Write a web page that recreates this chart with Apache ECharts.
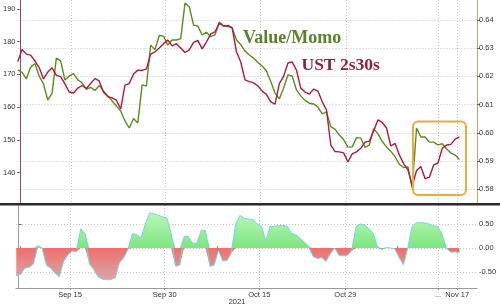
<!DOCTYPE html>
<html><head><meta charset="utf-8">
<script src="https://cdn.jsdelivr.net/npm/echarts@6/dist/echarts.min.js"></script>
<style>html,body{margin:0;padding:0;background:#fff}#c{width:500px;height:306px}</style>
</head><body><div id="c"></div>
<script>
// x is measured in trading days from Sep 7, 2021 (samples every half day)
const startDay = -0.25;
const stepDay = 0.5;
const tickDays = [6, 17, 28, 38, 48.77, 51];
const tickLabels = ['Sep 15', 'Sep 30', 'Oct 15', 'Oct 29', '...', 'Nov 17'];
const minorTickDays = [0.2, 23.1, 33, 44];
const yearLabel = '2021';

const ust2s30s = [
173.9,177.6,176.2,175.9,174.1,172.1,168.6,170.7,172.0,169.7,
169.3,167.1,164.6,164.3,165.8,166.6,165.7,167.2,168.7,168.0,
164.5,163.2,162.8,162.1,159.4,166.7,167.2,170.1,171.3,171.2,
171.7,176.2,176.9,178.1,179.4,180.5,178.7,179.4,178.1,176.7,
177.5,179.8,180.4,177.8,179.9,182.4,183.0,185.6,184.8,185.0,
184.2,176.9,173.8,168.3,167.8,167.4,166.5,164.9,163.9,161.6,
160.9,167.2,169.4,173.5,173.8,171.3,165.8,164.6,164.0,165.5,
164.9,161.6,159.1,148.4,146.4,146.3,146.0,143.2,145.7,146.3,
147.4,149.3,149.6,152.7,156.1,155.3,153.6,148.1,148.9,145.3,
142.7,140.8,135.9,140.6,141.8,138.1,138.6,142.3,142.9,147.4,
148.4,148.6,150.2,150.9];

const valueMomo = [
0.6223,0.6214,0.6191,0.6233,0.6246,0.6201,0.6173,0.6116,0.6141,0.6265,
0.6255,0.6187,0.6201,0.6210,0.6188,0.6177,0.6154,0.6161,0.6150,0.6168,
0.6148,0.6131,0.6113,0.6095,0.6077,0.6042,0.6017,0.6051,0.6035,0.6170,
0.6166,0.6311,0.6295,0.6345,0.6343,0.6311,0.6329,0.6329,0.6334,0.6460,
0.6447,0.6382,0.6379,0.6347,0.6357,0.6341,0.6347,0.6393,0.6379,0.6377,
0.6373,0.6329,0.6313,0.6290,0.6276,0.6265,0.6249,0.6237,0.6219,0.6182,
0.6141,0.6120,0.6159,0.6205,0.6201,0.6152,0.6131,0.6115,0.6105,0.6102,
0.6091,0.6067,0.6074,0.6022,0.6012,0.5992,0.5976,0.5949,0.5950,0.5983,
0.5981,0.5948,0.5957,0.6015,0.5996,0.5969,0.5950,0.5934,0.5915,0.5888,
0.5877,0.5879,0.5804,0.6017,0.5985,0.5985,0.5967,0.5967,0.5957,0.5961,
0.5943,0.5928,0.5921,0.5905];

const spread = [
-0.58,-0.55,-0.42,-0.40,-0.33,0.05,0.00,-0.36,-0.42,-0.52,
-0.60,-0.28,-0.14,-0.06,-0.08,0.40,0.30,-0.33,-0.45,-0.60,
-0.65,-0.66,-0.66,-0.62,-0.30,-0.20,-0.02,0.30,0.28,0.20,
0.50,0.73,0.72,0.68,0.65,0.63,0.30,-0.38,-0.36,0.24,
0.24,0.10,0.10,0.37,0.36,-0.38,-0.36,-0.05,-0.27,-0.26,
-0.10,0.50,0.68,0.62,0.60,0.60,0.50,0.45,0.15,0.45,
0.45,0.47,0.47,0.45,0.30,0.28,0.20,0.12,0.03,-0.18,
-0.22,-0.20,-0.28,-0.12,0.00,-0.15,-0.16,-0.15,-0.05,0.45,
0.50,0.48,0.40,0.30,0.02,-0.03,0.01,0.00,-0.02,-0.20,
-0.35,0.00,0.45,0.52,0.53,0.52,0.50,0.46,0.45,0.28,
0.00,-0.09,-0.08,-0.10];

const leftTicks = [140, 150, 160, 170, 180, 190];
const rightTicks = [0.58, 0.59, 0.60, 0.61, 0.62, 0.63, 0.64];
const lowerTicks = [-0.5, 0, 0.5];

const toPairs = arr => arr.map((v, i) => [startDay + i * stepDay, v]);
const font = 'Liberation Sans';
const lbl = {fontSize: 7.5, color: '#333', fontFamily: font};
const dotted = {show: true, lineStyle: {color: '#c4c4c4', type: [1, 2], width: 1}};
const xMin = -0.28, xMax = 53.3;

const chart = echarts.init(document.getElementById('c'), null, {renderer: 'canvas'});
chart.setOption({
  animation: false,
  backgroundColor: '#fff',
  grid: [
    {left: 16, right: 23, top: 0, height: 203},
    {left: 16, right: 23, top: 205, height: 83}
  ],
  xAxis: [
    {type: 'value', gridIndex: 0, min: xMin, max: xMax, axisLine: {show: false},
     axisTick: {show: false, customValues: tickDays}, axisLabel: {show: false, customValues: tickDays},
     splitLine: dotted},
    {type: 'value', gridIndex: 1, min: xMin, max: xMax,
     axisLine: {show: true, onZero: false, lineStyle: {color: '#9a9a9a', width: 1}},
     axisTick: {show: true, customValues: tickDays, length: 2, lineStyle: {color: '#888'}},
     axisLabel: Object.assign({customValues: tickDays, margin: 3,
       formatter: v => { const k = tickDays.findIndex(d => Math.abs(d - v) < 0.01); return k >= 0 ? tickLabels[k] : ''; }}, lbl),
     splitLine: dotted},
    {type: 'value', gridIndex: 1, min: xMin, max: xMax, axisLine: {show: false},
     axisTick: {show: true, customValues: minorTickDays, length: 2, lineStyle: {color: '#888'}},
     axisLabel: {show: false}, splitLine: {show: false}}
  ],
  yAxis: [
    {type: 'value', gridIndex: 0, position: 'left', min: 130.67, max: 192.75,
     axisLine: {show: true, lineStyle: {color: '#8c4a5c', width: 1}},
     axisTick: {show: true, customValues: leftTicks, length: 3, lineStyle: {color: '#666'}},
     axisLabel: Object.assign({customValues: leftTicks, margin: 2}, lbl),
     splitLine: {show: false}},
    {type: 'value', gridIndex: 0, position: 'right', min: 0.5751, max: 0.6471,
     axisLine: {show: true, lineStyle: {color: '#bba66a', width: 1}},
     axisTick: {show: true, customValues: rightTicks, length: 3, lineStyle: {color: '#666'}},
     axisLabel: Object.assign({customValues: rightTicks, margin: 2, formatter: v => v.toFixed(2)}, lbl),
     splitLine: dotted},
    {type: 'value', gridIndex: 1, position: 'right', min: -0.833, max: 0.896,
     axisLine: {show: true, lineStyle: {color: '#bba66a', width: 1}},
     axisTick: {show: true, customValues: lowerTicks, length: 3, lineStyle: {color: '#666'}},
     axisLabel: Object.assign({customValues: lowerTicks, margin: 2, formatter: v => v.toFixed(2)}, lbl),
     splitLine: dotted},
    {type: 'value', gridIndex: 1, position: 'left', min: -0.833, max: 0.896,
     axisLine: {show: true, lineStyle: {color: '#a0a0a0', width: 1}},
     axisTick: {show: false}, axisLabel: {show: false}, splitLine: {show: false}}
  ],
  series: [
    {name: 'Value/Momo', type: 'line', xAxisIndex: 0, yAxisIndex: 1, data: toPairs(valueMomo),
     showSymbol: false, symbol: 'none', lineStyle: {color: '#5c8c1e', width: 1.4}, z: 3},
    {name: 'UST 2s30s', type: 'line', xAxisIndex: 0, yAxisIndex: 0, data: toPairs(ust2s30s),
     showSymbol: false, symbol: 'none', lineStyle: {color: '#b0183f', width: 1.4}, z: 4},
    {type: 'line', xAxisIndex: 1, yAxisIndex: 2, data: toPairs(spread.map(v => Math.max(v, 0))),
     showSymbol: false, symbol: 'none', lineStyle: {width: 0},
     areaStyle: {opacity: 1, color: new echarts.graphic.LinearGradient(0, 0, 0, 1, [
       {offset: 0, color: '#b9f6b9'}, {offset: 1, color: '#7ee77e'}])}},
    {type: 'line', xAxisIndex: 1, yAxisIndex: 2, data: toPairs(spread.map(v => Math.min(v, 0))),
     showSymbol: false, symbol: 'none', lineStyle: {width: 0},
     areaStyle: {opacity: 1, color: new echarts.graphic.LinearGradient(0, 0, 0, 1, [
       {offset: 0, color: '#f26e6e'}, {offset: 1, color: '#d8a6a6'}])}},
    {type: 'line', xAxisIndex: 1, yAxisIndex: 2, data: toPairs(spread),
     showSymbol: false, symbol: 'none', lineStyle: {color: '#6fdcdc', width: 1}, z: 5}
  ],
  graphic: [
    {type: 'rect', shape: {x: 0, y: 203, width: 500, height: 2.5}, style: {fill: '#2b2b2b'}, z: 100},
    {type: 'text', x: 243, y: 29.5, style: {text: 'Value/Momo', fill: '#5a822a',
      font: 'bold 18px "Liberation Serif", "DejaVu Serif", serif', textVerticalAlign: 'top'}, z: 100},
    {type: 'text', x: 301.5, y: 56.5, style: {text: 'UST 2s30s', fill: '#8f1d3e',
      font: 'bold 17.5px "Liberation Serif", "DejaVu Serif", serif', textVerticalAlign: 'top'}, z: 100},
    {type: 'rect', shape: {x: 413, y: 121.5, width: 53, height: 73.5, r: 5},
     style: {fill: 'none', stroke: '#e6ae3c', lineWidth: 2}, z: 100},
    {type: 'text', x: 237, y: 302, style: {text: yearLabel, fill: '#333',
      font: '7.5px "Liberation Sans", sans-serif', textAlign: 'center', textVerticalAlign: 'middle'}, z: 100}
  ]
});
</script></body></html>
